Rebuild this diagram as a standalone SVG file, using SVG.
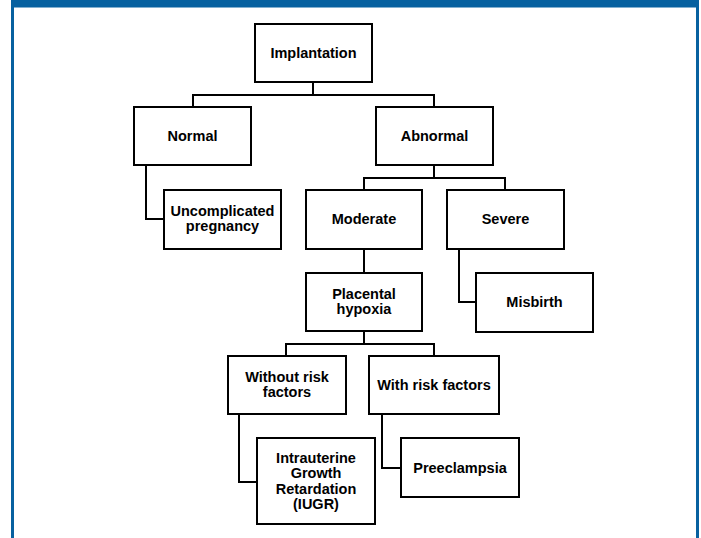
<svg xmlns="http://www.w3.org/2000/svg" width="701" height="538" viewBox="0 0 701 538">
<style>
.box{fill:#fff;stroke:#000;stroke-width:2}
.lbl{font-family:"Liberation Sans",Arial,sans-serif;font-weight:bold;font-size:14.5px;fill:#000;text-anchor:middle}
.conn{fill:none;stroke:#000;stroke-width:2}
.frame{fill:none;stroke:#0761a0;stroke-width:3}
</style>
<rect x="0" y="0" width="701" height="538" fill="#fff"/>
<rect x="11" y="0" width="688" height="7.5" fill="#0761a0"/>
<line class="frame" x1="12.5" y1="0" x2="12.5" y2="538"/>
<line class="frame" x1="697.5" y1="0" x2="697.5" y2="538"/>
<g id="connectors">
<polyline class="conn" points="313,82 313,95 193,95 193,107"/>
<polyline class="conn" points="313,95 434,95 434,107"/>
<polyline class="conn" points="146,165 146,219 164,219"/>
<polyline class="conn" points="434,165 434,178 364,178 364,190"/>
<polyline class="conn" points="434,178 505,178 505,190"/>
<polyline class="conn" points="459,249 459,302 476,302"/>
<polyline class="conn" points="364,249 364,273"/>
<polyline class="conn" points="364,331 364,344 286,344 286,356"/>
<polyline class="conn" points="364,344 434,344 434,356"/>
<polyline class="conn" points="239,414 239,482 257,482"/>
<polyline class="conn" points="382,414 382,468 401,468"/>
</g>
<g id="implantation"><rect class="box" x="255" y="24" width="117" height="58"/><text class="lbl" x="313.5" y="58">Implantation</text></g>
<g id="normal"><rect class="box" x="134" y="107" width="117" height="58"/><text class="lbl" x="192.5" y="141">Normal</text></g>
<g id="abnormal"><rect class="box" x="376" y="107" width="117" height="58"/><text class="lbl" x="434.5" y="141">Abnormal</text></g>
<g id="uncomplicated"><rect class="box" x="164" y="190" width="117" height="59"/><text class="lbl" x="222.5" y="216">Uncomplicated</text><text class="lbl" x="222.5" y="231">pregnancy</text></g>
<g id="moderate"><rect class="box" x="306" y="190" width="116" height="59"/><text class="lbl" x="364" y="224">Moderate</text></g>
<g id="severe"><rect class="box" x="447" y="190" width="117" height="59"/><text class="lbl" x="505.5" y="224">Severe</text></g>
<g id="placental"><rect class="box" x="306" y="273" width="116" height="58"/><text class="lbl" x="364" y="299">Placental</text><text class="lbl" x="364" y="314">hypoxia</text></g>
<g id="misbirth"><rect class="box" x="476" y="273" width="117" height="59"/><text class="lbl" x="534.5" y="307">Misbirth</text></g>
<g id="without"><rect class="box" x="228" y="356" width="118" height="58"/><text class="lbl" x="287" y="382">Without risk</text><text class="lbl" x="287" y="397">factors</text></g>
<g id="with"><rect class="box" x="369" y="356" width="130" height="58"/><text class="lbl" x="434" y="390">With risk factors</text></g>
<g id="iugr"><rect class="box" x="257" y="438" width="118" height="86"/><text class="lbl" x="316" y="463">Intrauterine</text><text class="lbl" x="316" y="478">Growth</text><text class="lbl" x="316" y="494">Retardation</text><text class="lbl" x="316" y="509">(IUGR)</text></g>
<g id="preeclampsia"><rect class="box" x="401" y="438" width="118" height="59"/><text class="lbl" x="460" y="473">Preeclampsia</text></g>
</svg>
